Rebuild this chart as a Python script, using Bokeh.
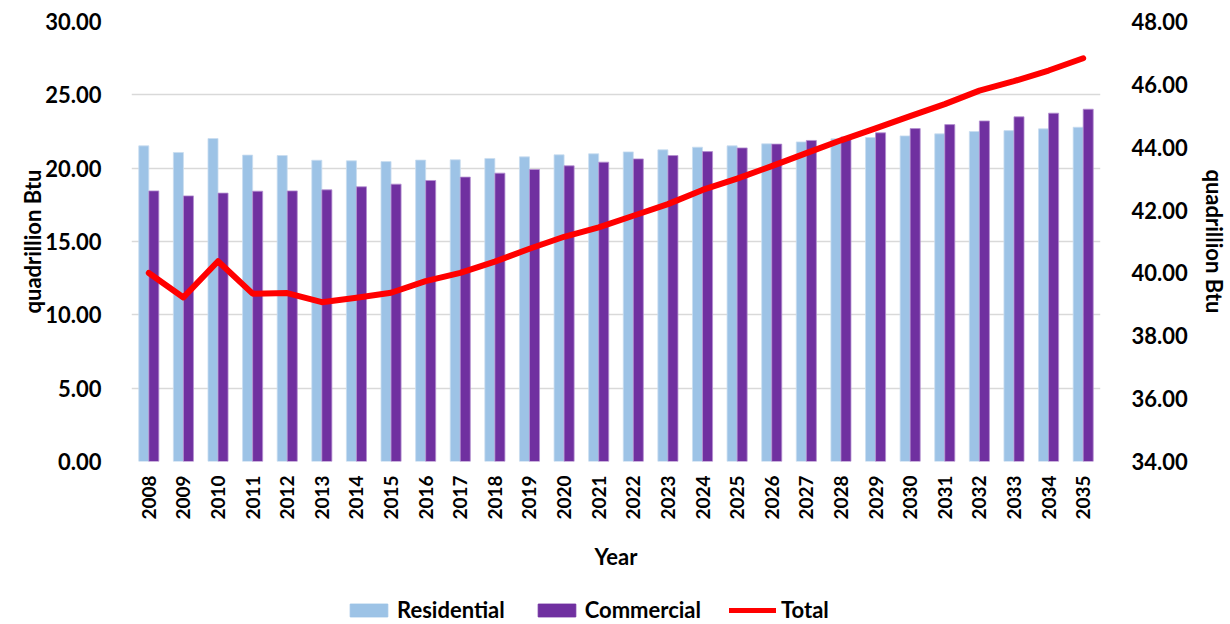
from math import pi
from bokeh.plotting import figure
from bokeh.layouts import column
from bokeh.models import (ColumnDataSource, FactorRange, Range1d, LinearAxis, Legend, LegendItem,
                          FixedTicker, NumeralTickFormatter)
from bokeh.transform import dodge
from bokeh.embed import file_html
from bokeh.resources import INLINE

years = [str(y) for y in range(2008, 2036)]
residential = [21.52, 21.07, 22.02, 20.89, 20.86, 20.54, 20.50, 20.45, 20.55, 20.57, 20.66,
               20.77, 20.91, 20.98, 21.11, 21.25, 21.43, 21.52, 21.66, 21.79,
               22.00, 22.09, 22.20, 22.34, 22.50, 22.56, 22.68, 22.79]
commercial = [18.45, 18.11, 18.30, 18.43, 18.45, 18.52, 18.73, 18.91, 19.16, 19.39, 19.66,
              19.91, 20.16, 20.41, 20.63, 20.86, 21.13, 21.38, 21.64, 21.89,
              22.13, 22.41, 22.70, 22.97, 23.22, 23.50, 23.75, 24.02]
total = [40.00, 39.22, 40.37, 39.34, 39.36, 39.07, 39.21, 39.37, 39.74, 40.00, 40.36,
         40.77, 41.15, 41.45, 41.82, 42.19, 42.64, 43.00, 43.40, 43.81,
         44.22, 44.60, 44.99, 45.37, 45.80, 46.10, 46.44, 46.83]
left_ticks = [0, 5, 10, 15, 20, 25, 30]
right_ticks = [34, 36, 38, 40, 42, 44, 46, 48]

FONT = "Lato"
RES_COLOR = "#9DC3E6"
COM_COLOR = "#7030A0"
TOT_COLOR = "#FF0000"
src = ColumnDataSource(dict(year=years, res=residential, com=commercial, tot=total))

p = figure(width=1230, height=596, x_range=FactorRange(*years), y_range=Range1d(0, 30),
           output_backend="svg", toolbar_location=None,
           min_border_left=131, min_border_right=130, min_border_top=21, min_border_bottom=135)
p.outline_line_color = None
p.extra_y_ranges = {"tot": Range1d(34, 48)}

p.vbar(x=dodge("year", -0.145, range=p.x_range), top="res", width=0.29, source=src,
       fill_color=RES_COLOR, line_color="#c9ddf0", line_width=0.8)
p.vbar(x=dodge("year", 0.145, range=p.x_range), top="com", width=0.29, source=src,
       fill_color=COM_COLOR, line_color="#b48fd0", line_width=0.8)
p.line(x="year", y="tot", source=src, y_range_name="tot", line_color=TOT_COLOR,
       line_width=6, line_join="round", line_cap="round")

p.xgrid.grid_line_color = None
p.ygrid.grid_line_color = "#d9d9d9"
p.ygrid.grid_line_width = 1.5

ya = p.yaxis[0]
ya.ticker = FixedTicker(ticks=left_ticks)
ya.formatter = NumeralTickFormatter(format="0.00")
ya.axis_line_color = None
ya.major_tick_line_color = None
ya.minor_tick_line_color = None
ya.major_label_standoff = 24
ya.major_label_text_font = FONT
ya.major_label_text_font_style = "bold"
ya.major_label_text_font_size = "22px"
ya.major_label_text_color = "#000000"
ya.axis_label = "quadrillion Btu"
ya.axis_label_text_font = FONT
ya.axis_label_text_font_style = "bold"
ya.axis_label_text_font_size = "22px"
ya.axis_label_text_color = "#000000"
ya.axis_label_standoff = -4

ra = LinearAxis(y_range_name="tot", ticker=FixedTicker(ticks=right_ticks),
                formatter=NumeralTickFormatter(format="0.00"))
ra.axis_line_color = None
ra.major_tick_line_color = None
ra.minor_tick_line_color = None
ra.major_label_standoff = 25
ra.major_label_text_font = FONT
ra.major_label_text_font_style = "bold"
ra.major_label_text_font_size = "22px"
ra.major_label_text_color = "#000000"
ra.axis_label = "quadrillion Btu"
ra.axis_label_text_font = FONT
ra.axis_label_text_font_style = "bold"
ra.axis_label_text_font_size = "22px"
ra.axis_label_text_color = "#000000"
ra.axis_label_standoff = 10
p.add_layout(ra, "right")

xa = p.xaxis[0]
xa.axis_line_color = None
xa.major_tick_line_color = None
xa.minor_tick_line_color = None
xa.major_label_orientation = pi / 2
xa.major_label_standoff = 8
xa.major_label_text_font = FONT
xa.major_label_text_font_style = "bold"
xa.major_label_text_font_size = "19px"
xa.major_label_text_color = "#000000"
xa.axis_label = "Year"
xa.axis_label_text_font = FONT
xa.axis_label_text_font_style = "bold"
xa.axis_label_text_font_size = "22px"
xa.axis_label_text_color = "#000000"
xa.axis_label_standoff = 20

# legend strip below the chart (swatch renderers carry no visible data)
lg = figure(width=1230, height=28, x_range=Range1d(0, 1), y_range=Range1d(0, 1),
            output_backend="svg", toolbar_location=None, min_border=0)
lg.outline_line_color = None
lg.axis.visible = False
lg.grid.visible = False
blank = ColumnDataSource(dict(x=[float("nan")], y=[float("nan")]))
g1 = lg.vbar(x="x", top="y", width=0.1, source=blank, fill_color=RES_COLOR, line_color=RES_COLOR)
g2 = lg.vbar(x="x", top="y", width=0.1, source=blank, fill_color=COM_COLOR, line_color=COM_COLOR)
g3 = lg.line(x="x", y="y", source=blank, line_color=TOT_COLOR, line_width=5, line_cap="round")

legend = Legend(items=[LegendItem(label="Residential", renderers=[g1]),
                       LegendItem(label="Commercial", renderers=[g2]),
                       LegendItem(label="Total", renderers=[g3])],
                orientation="horizontal", location=(214, 1),
                label_text_font=FONT, label_text_font_style="bold", label_text_font_size="22px",
                label_text_color="#000000", glyph_width=47, glyph_height=16,
                spacing=28, label_standoff=5, border_line_color=None,
                background_fill_alpha=0, padding=0, margin=0)
lg.add_layout(legend, "center")

layout = column(p, lg, spacing=0)

with open("out.html", "w") as f:
    f.write(file_html(layout, INLINE))
